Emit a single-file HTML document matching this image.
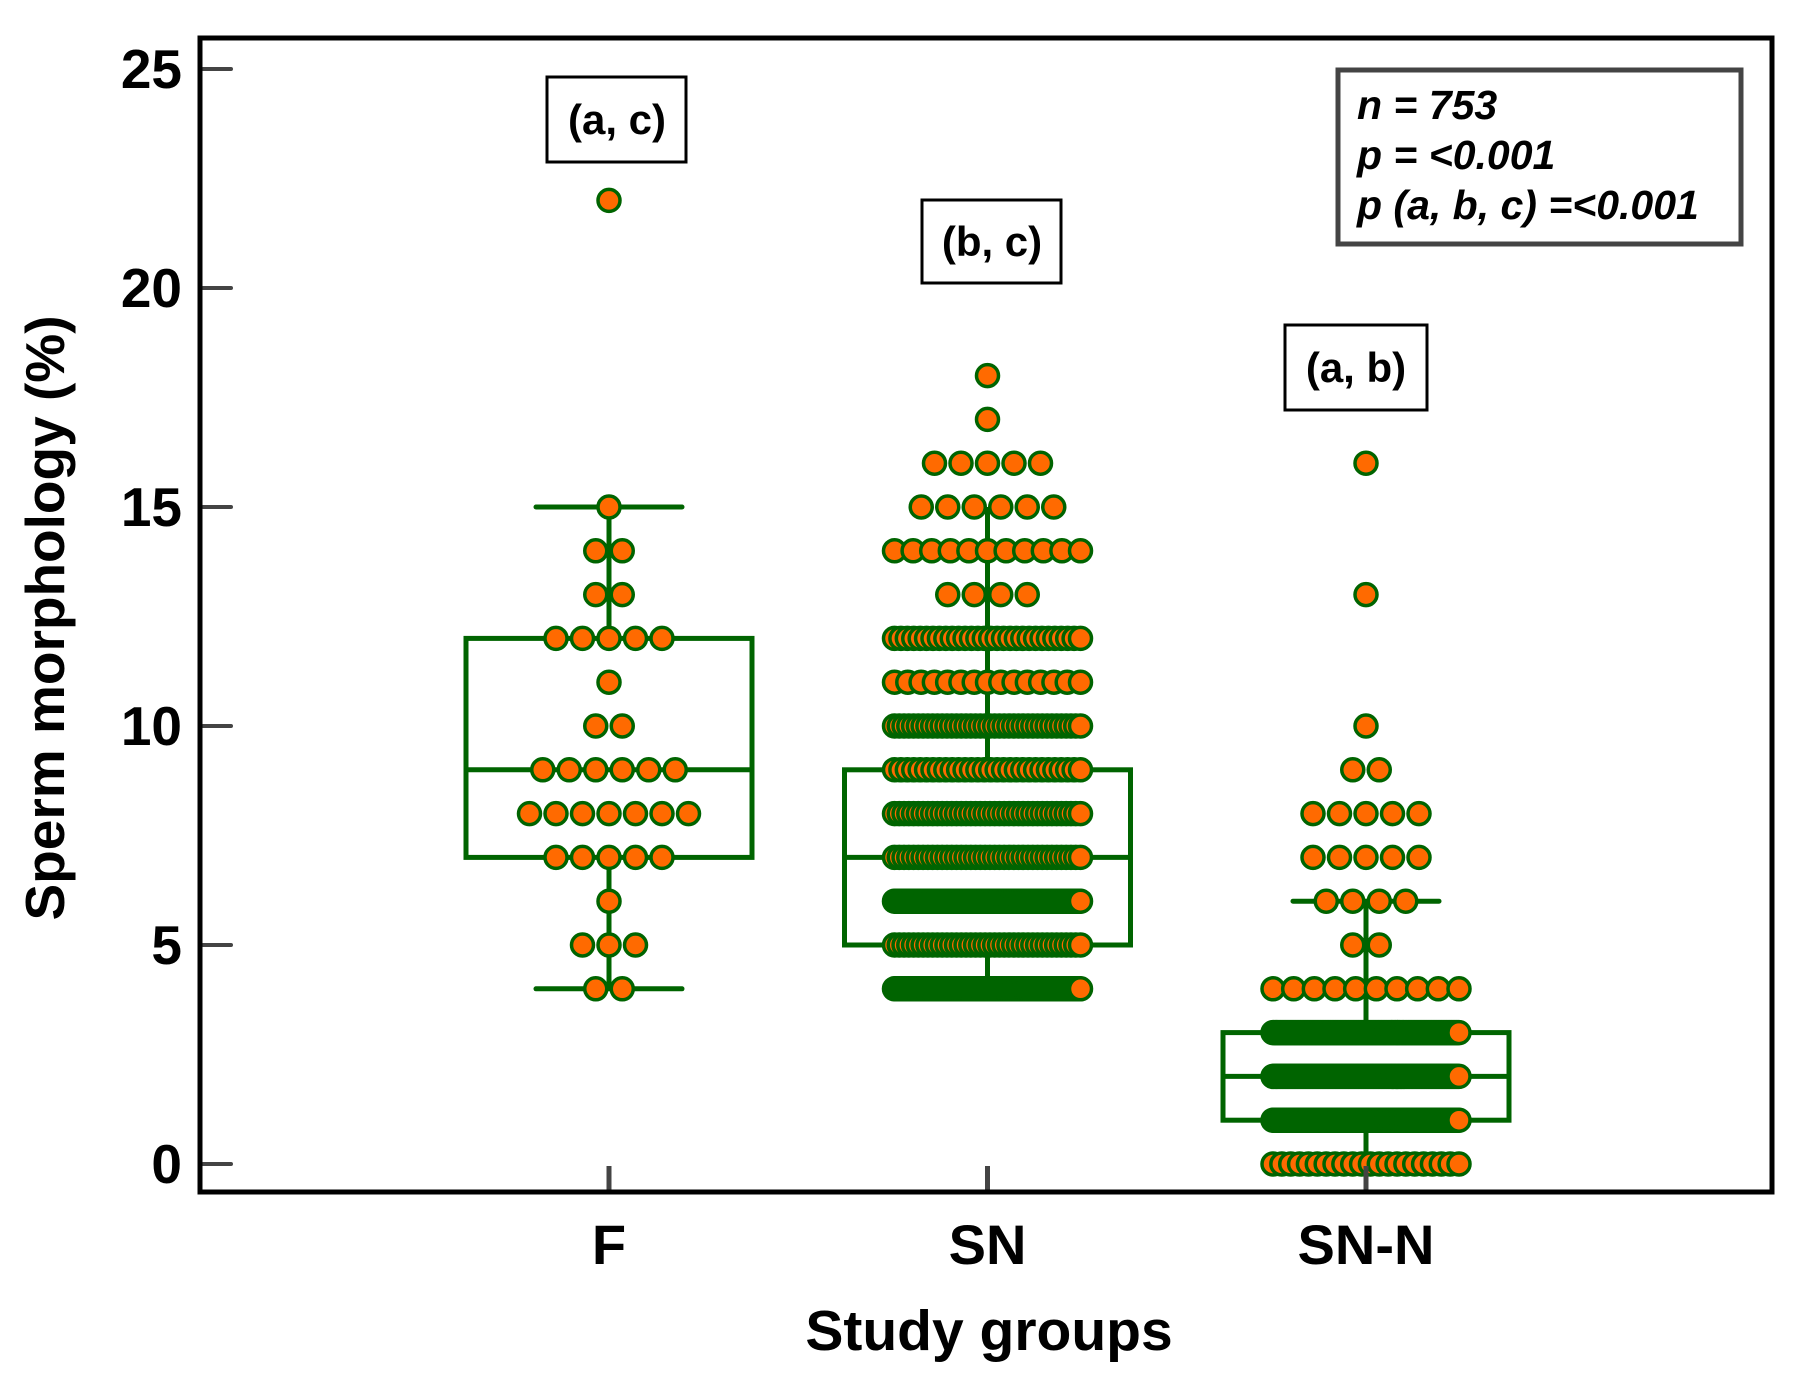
<!DOCTYPE html>
<html><head><meta charset="utf-8"><style>
html,body{margin:0;padding:0;background:#fff;}
svg{display:block;font-family:"Liberation Sans",Arial,sans-serif;}
</style></head><body>
<svg id="chart" width="1810" height="1396" viewBox="0 0 1810 1396" xmlns="http://www.w3.org/2000/svg">
<rect x="0" y="0" width="1810" height="1396" fill="#fff"/>
<g id="boxes"></g>
<g id="dots"></g>
<g id="axes"></g>
<rect x="200" y="38" width="1572" height="1154" fill="none" stroke="#000" stroke-width="5"/>
<text transform="translate(64,618) rotate(-90)" text-anchor="middle" font-size="55" font-weight="bold">Sperm morphology (%)</text>
<text x="989" y="1350" text-anchor="middle" font-size="57" font-weight="bold">Study groups</text>
<g>
<rect x="547" y="77" width="139" height="85" fill="#fff" stroke="#000" stroke-width="3"/>
<text x="617" y="134" text-anchor="middle" font-size="42" font-weight="bold">(a, c)</text></g>
<g>
<rect x="922" y="200" width="139" height="83" fill="#fff" stroke="#000" stroke-width="3"/>
<text x="992" y="256" text-anchor="middle" font-size="42" font-weight="bold">(b, c)</text></g>
<g>
<rect x="1285" y="325" width="142" height="85" fill="#fff" stroke="#000" stroke-width="3"/>
<text x="1356" y="382" text-anchor="middle" font-size="42" font-weight="bold">(a, b)</text></g>
<g>
<rect x="1338" y="70" width="403" height="174" fill="#fff" stroke="#444" stroke-width="5"/>
<text x="1357" y="119" font-size="41" font-weight="bold" font-style="italic">n = 753</text>
<text x="1357" y="169" font-size="41" font-weight="bold" font-style="italic">p = &lt;0.001</text>
<text x="1357" y="219" font-size="41" font-weight="bold" font-style="italic">p (a, b, c) =&lt;0.001</text>
</g>
</svg>
<script>
const categories = ["F", "SN", "SN-N"];
const yTicks = [0, 5, 10, 15, 20, 25];
const fValues = [4,5,6,7,8,9,10,11,12,13,14,15,22];
const fCounts = [2,3,1,5,7,6,2,1,5,2,2,1,1];
const snValues = [4,5,6,7,8,9,10,11,12,13,14,15,16,17,18];
const snCounts = [150,40,150,40,40,30,40,15,30,4,11,6,5,1,1];
const snnValues = [0,1,2,3,4,5,6,7,8,9,10,13,16];
const snnCounts = [22,150,150,150,10,2,4,5,5,2,1,1,1];
const q1 = [7, 5, 1];
const medians = [9, 7, 2];
const q3 = [12, 9, 3];
const whiskerLow = [4, 4, 0];
const whiskerHigh = [15, 15, 6];
const showCaps = [true, false, true];

const NS = "http://www.w3.org/2000/svg";
const yScale = v => 1164 - v * 43.8;
const xScale = i => 609 + i * 378.5;
const GREEN = "#006400", ORANGE = "#ff6a00";
function mk(tag, attrs, parent){
  const e = document.createElementNS(NS, tag);
  for (const k in attrs) e.setAttribute(k, attrs[k]);
  parent.appendChild(e); return e;
}
const axes = document.getElementById('axes');
yTicks.forEach(t => {
  const l = mk('line', {x1:203, x2:231, y1:yScale(t), y2:yScale(t), stroke:"#444", "stroke-width":4, "stroke-linecap":"round"}, axes);
  
  
  const tx = mk('text', {x:182, y:yScale(t)+19, "text-anchor":"end", "font-size":55, "font-weight":"bold"}, axes);
  tx.textContent = t;
  
  
});
categories.forEach((c, i) => {
  const l = mk('line', {x1:xScale(i), x2:xScale(i), y1:1166, y2:1190, stroke:"#444", "stroke-width":5}, axes);
  
  
  const tx = mk('text', {x:xScale(i), y:1264, "text-anchor":"middle", "font-size":56, "font-weight":"bold"}, axes);
  tx.textContent = c;
  
  
});
const boxes = document.getElementById('boxes');
categories.forEach((c, i) => {
  const cx = xScale(i), hw = 143, cw = 73;
  const g = mk('g', {stroke:GREEN, "stroke-width":5, fill:"none"}, boxes);
  
  
  mk('rect', {x:cx-hw, y:yScale(q3[i]), width:2*hw, height:yScale(q1[i])-yScale(q3[i]), fill:"#fff"}, g);
  mk('line', {x1:cx-hw, x2:cx+hw, y1:yScale(medians[i]), y2:yScale(medians[i])}, g);
  mk('line', {x1:cx, x2:cx, y1:yScale(whiskerLow[i]), y2:yScale(q1[i])}, g);
  mk('line', {x1:cx, x2:cx, y1:yScale(q3[i]), y2:yScale(whiskerHigh[i])}, g);
  if (showCaps[i]) {
    mk('line', {x1:cx-cw, x2:cx+cw, y1:yScale(whiskerLow[i]), y2:yScale(whiskerLow[i]), "stroke-linecap":"round"}, g);
    mk('line', {x1:cx-cw, x2:cx+cw, y1:yScale(whiskerHigh[i]), y2:yScale(whiskerHigh[i]), "stroke-linecap":"round"}, g);
  }
});
const dots = document.getElementById('dots');
const groupsV = [fValues, snValues, snnValues];
const groupsC = [fCounts, snCounts, snnCounts];
groupsV.forEach((vals, gi) => {
  const g = mk('g', {fill:ORANGE, stroke:GREEN, "stroke-width":3.5}, dots);
  
  
  vals.forEach((v, k) => {
    const n = groupsC[gi][k];
    const s = n > 1 ? Math.min(26.5, 186 / (n - 1)) : 0;
    for (let j = 0; j < n; j++) {
      const off = j * s - (n - 1) * s / 2;
      const d = mk('circle', {cx:xScale(gi)+off, cy:yScale(v), r:11}, g);
      
      
    }
  });
});
</script>
</body></html>
